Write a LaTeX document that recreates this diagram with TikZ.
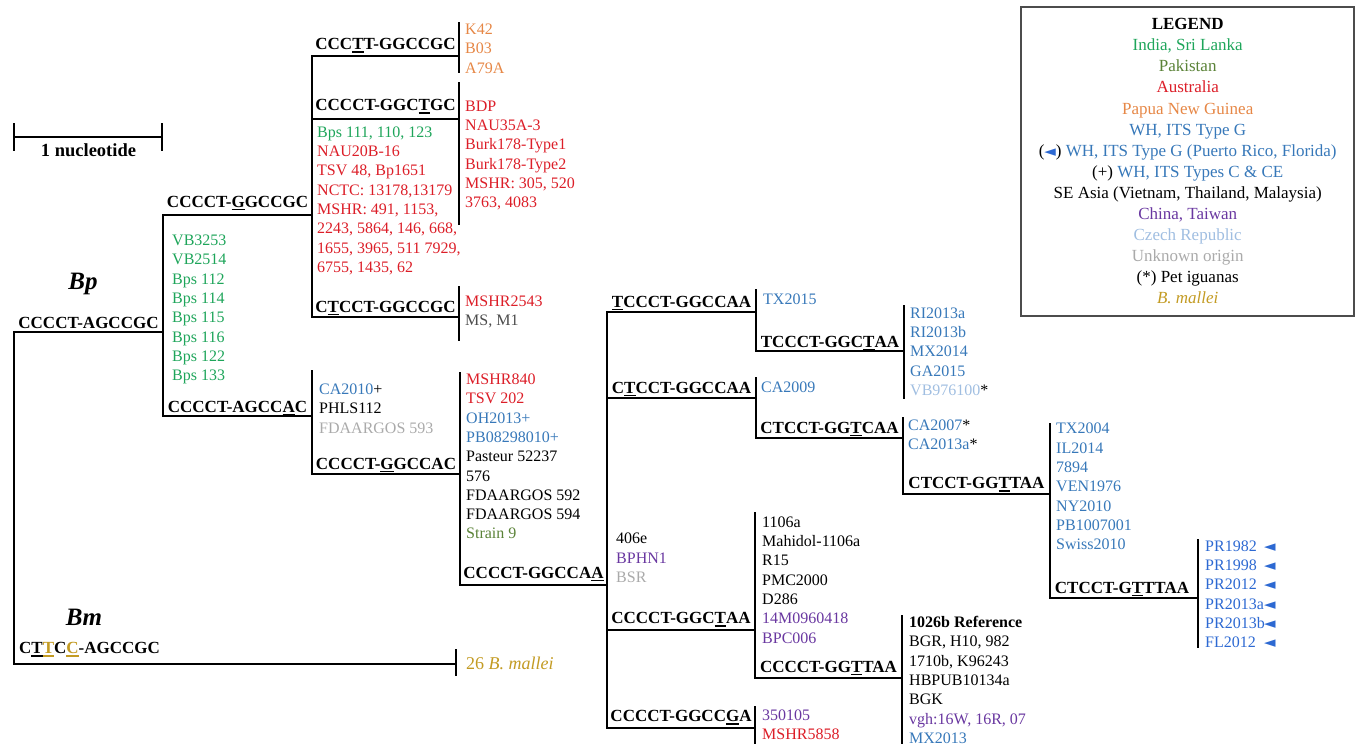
\documentclass[tikz,border=0pt]{standalone}
\usepackage{fontspec}
\setmainfont{Liberation Serif}
\newfontfamily\arrowfont{DejaVu Sans}

\definecolor{india}{RGB}{30,165,90}
\definecolor{pakistan}{RGB}{90,130,55}
\definecolor{australia}{RGB}{220,30,40}
\definecolor{png}{RGB}{230,135,70}
\definecolor{wh}{RGB}{55,120,185}
\definecolor{puerto}{RGB}{45,105,210}
\definecolor{china}{RGB}{105,55,160}
\definecolor{czech}{RGB}{160,190,225}
\definecolor{unknown}{RGB}{170,170,170}
\definecolor{mallei}{RGB}{195,155,35}

\newcommand{\undl}[1]{\setbox0\hbox{#1}\rlap{\rule[-3pt]{\wd0}{1.3pt}}\box0}
\newcommand{\prmark}{{\arrowfont\fontsize{15}{15}\selectfont ◄}}
\newcommand{\prline}[1]{\makebox[59pt][l]{#1}\prmark}

\tikzset{
    branch/.style={line width=1.6pt, line cap=rect},
    seq/.style={font=\fontsize{17}{20}\selectfont\bfseries, anchor=base, inner sep=0pt},
    leaves/.style={font=\fontsize{16}{19.3}\selectfont, align=left, anchor=north west, inner sep=0pt}
}

\begin{document}
\begin{tikzpicture}[x=1pt,y=-1pt]
        \useasboundingbox (0,0) rectangle (1358,745);
        \coordinate (sb1) at (14,137);
        \coordinate (sb2) at (162,137);
        \draw[branch] (sb1) -- (sb2);
        \draw[branch] (sb1 |- 0,124) -- (sb1 |- 0,150);
        \draw[branch] (sb2 |- 0,124) -- (sb2 |- 0,150);
        \node (scale) [font=\fontsize{18.5}{22}\selectfont\bfseries, anchor=base] at (88.5,156) {1 nucleotide};
        \node (bpname) [font=\fontsize{25}{30}\selectfont\bfseries\itshape, anchor=base] at (83,289) {Bp};
        \node (bmname) [font=\fontsize{25}{30}\selectfont\bfseries\itshape, anchor=base] at (84,625) {Bm};

        \coordinate (root) at (14,332);
        \coordinate (bp) at (163,332);
        \coordinate (n1) at (312,215);
        \coordinate (n1a) at (459,56);
        \coordinate (n1b) at (459,119);
        \coordinate (n1c) at (459,317);
        \coordinate (n2) at (312,416);
        \coordinate (n3) at (460,474);
        \coordinate (n4) at (607,585);
        \coordinate (n4a) at (756,312);
        \coordinate (n4a1) at (904,351);
        \coordinate (n4b) at (756,398);
        \coordinate (n4b1) at (903,438);
        \coordinate (n4b2) at (1050,494);
        \coordinate (n4b3) at (1198,598);
        \coordinate (n4c) at (755,630);
        \coordinate (n4c1) at (902,678);
        \coordinate (n4d) at (755,728);
        \coordinate (bm) at (456,664);

        \draw[branch] (root) -- (bp);
        \draw[branch] (root) |- (bm);
        \foreach \p/\c in {bp/n1, bp/n2, n1/n1a, n1/n1b, n1/n1c, n2/n3, n3/n4, n4/n4a, n4/n4b, n4/n4c, n4/n4d,
                n4a/n4a1, n4b/n4b1, n4b1/n4b2, n4b2/n4b3, n4c/n4c1}
            \draw[branch] (\p |- \c) -- (\c);
        \foreach \n/\t/\b in {bp/215/416, n1/56/317, n1a/23/72, n1b/83/224, n1c/287/340, n2/371/474, n3/373/585,
                n4/312/728, n4a/290/351, n4a1/306/398, n4b/378/438, n4b1/418/494, n4b2/424/598, n4b3/540/647,
                n4c/513/678, n4c1/616/743, n4d/707/743, bm/650/675}
            \draw[branch] (\n |- 0,\t) -- (\n |- 0,\b);

        \begin{scope}[every node/.style={seq}]
            \node (s-root) at (88.5,328.5) {CCCCT-AGCCGC};
            \node (s-n1) at (237.5,207) {CCCCT-\undl{G}GCCGC};
            \node (s-n1a) at (385.5,49.5) {CCC\undl{T}T-GGCCGC};
            \node (s-n1b) at (385.5,110.5) {CCCCT-GGC\undl{T}GC};
            \node (s-n1c) at (385.5,312) {C\undl{T}CCT-GGCCGC};
            \node (s-n2) at (237.5,412.5) {CCCCT-AGCC\undl{A}C};
            \node (s-n3) at (386,469) {CCCCT-\undl{G}GCCAC};
            \node (s-n4) at (533.5,578) {CCCCT-GGCCA\undl{A}};
            \node (s-n4a) at (681.5,307) {\undl{T}CCCT-GGCCAA};
            \node (s-n4a1) at (830,347) {TCCCT-GGC\undl{T}AA};
            \node (s-n4b) at (681.5,393) {C\undl{T}CCT-GGCCAA};
            \node (s-n4b1) at (829.5,433) {CTCCT-GG\undl{T}CAA};
            \node (s-n4b2) at (976.5,488.5) {CTCCT-GG\undl{T}TAA};
            \node (s-n4b3) at (1122,593) {CTCCT-G\undl{T}TTAA};
            \node (s-n4c) at (681,623.5) {CCCCT-GGC\undl{T}AA};
            \node (s-n4c1) at (828.5,672) {CCCCT-GG\undl{T}TAA};
            \node (s-n4d) at (681,721.5) {CCCCT-GGCC\undl{G}A};
            \node (s-bm) [anchor=base west] at (19,653.5) {C\undl{T}\textcolor{mallei}{\undl{T}}C\textcolor{mallei}{\undl{C}}-AGCCGC};
        \end{scope}

        \begin{scope}[every node/.style={leaves}]
            \node (l-n1a) [text=png] at (465,20.8) {\strut K42\\B03\\A79A};
            \node (l-n1b) [text=australia] at (465,97.5) {\strut BDP\\NAU35A-3\\Burk178-Type1\\Burk178-Type2\\MSHR: 305, 520\\3763, 4083};
            \node (l-n1) [text=australia] at (317,123.5) {\strut\textcolor{india}{Bps 111, 110, 123}\\NAU20B-16\\TSV 48, Bp1651\\NCTC: 13178,13179\\MSHR: 491, 1153,\\2243, 5864, 146, 668,\\1655, 3965, 511 7929,\\6755, 1435, 62};
            \node (l-bp) [text=india] at (172,231.8) {\strut VB3253\\VB2514\\Bps 112\\Bps 114\\Bps 115\\Bps 116\\Bps 122\\Bps 133};
            \node (l-n1c) at (465,292.5) {\strut\textcolor{australia}{MSHR2543}\\\textcolor{black!70}{MS, M1}};
            \node (l-n2) at (319,380.8) {\strut\textcolor{wh}{CA2010}+\\PHLS112\\\textcolor{unknown}{FDAARGOS 593}};
            \node (l-n3) at (466,370.8) {\strut\textcolor{australia}{MSHR840}\\\textcolor{australia}{TSV 202}\\\textcolor{wh}{OH2013+}\\\textcolor{wh}{PB08298010+}\\Pasteur 52237\\576\\FDAARGOS 592\\FDAARGOS 594\\\textcolor{pakistan}{Strain 9}};
            \node (l-n4) at (616,530.1) {\strut 406e\\\textcolor{china}{BPHN1}\\\textcolor{unknown}{BSR}};
            \node (l-n4a) [text=wh] at (763,290.8) {\strut TX2015};
            \node (l-n4a1) [text=wh] at (910,304.5) {\strut RI2013a\\RI2013b\\MX2014\\GA2015\\\textcolor{czech}{VB976100}\textcolor{black}{*}};
            \node (l-n4b) [text=wh] at (761,378.5) {\strut CA2009};
            \node (l-n4b1) [text=wh] at (908,416.8) {\strut CA2007\textcolor{black}{*}\\CA2013a\textcolor{black}{*}};
            \node (l-n4b2) [text=wh] at (1056,420.1) {\strut TX2004\\IL2014\\7894\\VEN1976\\NY2010\\PB1007001\\Swiss2010};
            \node (l-n4b3) [text=puerto] at (1205,537.5) {\strut\prline{PR1982}\\\prline{PR1998}\\\prline{PR2012}\\\prline{PR2013a}\\\prline{PR2013b}\\\prline{FL2012}};
            \node (l-n4c) at (762,513.5) {\strut 1106a\\Mahidol-1106a\\R15\\PMC2000\\D286\\\textcolor{china}{14M0960418}\\\textcolor{china}{BPC006}};
            \node (l-n4c1) at (909,613.8) {\strut\textbf{1026b Reference}\\BGR, H10, 982\\1710b, K96243\\HBPUB10134a\\BGK\\\textcolor{china}{vgh:16W, 16R, 07}\\\textcolor{wh}{MX2013}};
            \node (l-n4d) at (762,706.8) {\strut\textcolor{china}{350105}\\\textcolor{australia}{MSHR5858}};
        \end{scope}
        \node (l-bm) [text=mallei, font=\fontsize{18}{21}\selectfont, anchor=base west, inner sep=0pt] at (466,669.5) {26 \textit{B. mallei}};

        \node (legendbox) [draw=black!70, line width=1.2pt, minimum width=333pt, minimum height=309pt, inner sep=0pt] at (1187.5,161.5) {};
        \node (legend) [font=\fontsize{17}{21.05}\selectfont, align=center, anchor=north, inner sep=0pt] at (1187.7,14.9) {\strut\textbf{LEGEND}\\
            \textcolor{india}{India, Sri Lanka}\\
            \textcolor{pakistan}{Pakistan}\\
            \textcolor{australia}{Australia}\\
            \textcolor{png}{Papua New Guinea}\\
            \textcolor{wh}{WH, ITS Type G}\\
            (\textcolor{puerto}{\prmark}) \textcolor{wh}{WH, ITS Type G (Puerto Rico, Florida)}\\
            (+) \textcolor{wh}{WH, ITS Types C \& CE}\\
            SE Asia (Vietnam, Thailand, Malaysia)\\
            \textcolor{china}{China, Taiwan}\\
            \textcolor{czech}{Czech Republic}\\
            \textcolor{unknown}{Unknown origin}\\
            (*) Pet iguanas\\
            \textcolor{mallei}{\textit{B. mallei}}};
    \end{tikzpicture}
\end{document}
